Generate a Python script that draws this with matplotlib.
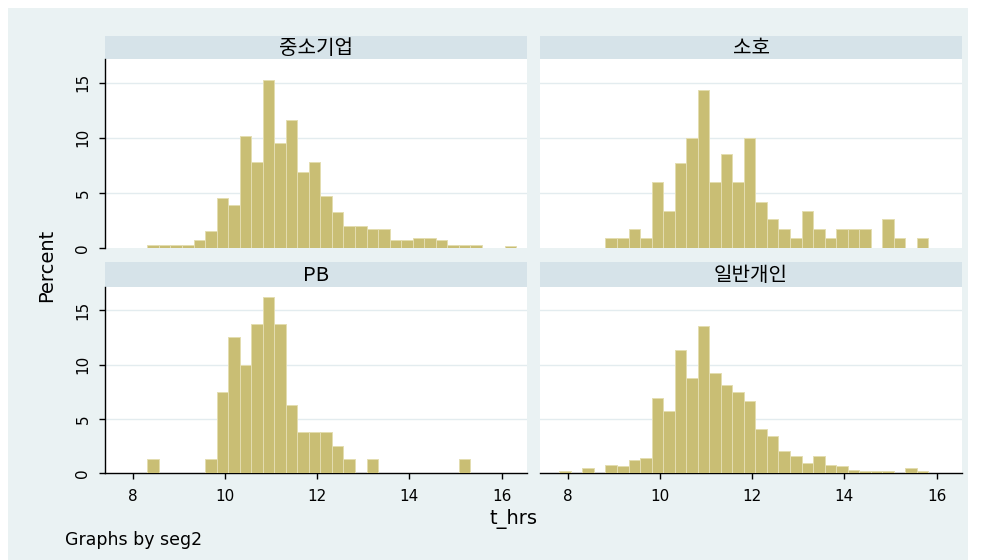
import numpy as np
import matplotlib
matplotlib.use("Agg")
import matplotlib.pyplot as plt
from matplotlib.patches import Rectangle

plt.rcParams['font.family'] = ['DejaVu Sans', 'Noto Sans CJK KR']

# histogram bins (t_hrs), common to all groups
BIN_START = 7.82
BIN_WIDTH = 0.25
N_BINS = 34

groups = ['중소기업', '소호', 'PB', '일반개인']

# percent per bin, bin 0 .. 33
pct_sme = [0, 0, 0.3, 0.3, 0.3, 0.3, 0.76, 1.5, 4.5, 3.9, 10.2, 7.8, 15.2, 9.5, 11.6, 6.9, 7.8,
           4.75, 3.3, 2.0, 2.0, 1.7, 1.7, 0.7, 0.7, 0.9, 0.9, 0.76, 0.3, 0.3, 0.3, 0, 0, 0.2]
pct_soho = [0, 0, 0, 0, 0.9, 0.9, 1.7, 0.9, 6.0, 3.4, 7.7, 10.0, 14.3, 6.0, 8.5, 6.0, 10.0,
            4.2, 2.6, 1.7, 0.9, 3.4, 1.7, 0.9, 1.7, 1.7, 1.7, 0, 2.6, 0.9, 0, 0.9, 0, 0]
pct_pb = [0, 0, 1.25, 0, 0, 0, 0, 1.25, 7.5, 12.5, 10.0, 13.75, 16.25, 13.75, 6.25, 3.75, 3.75,
          3.75, 2.5, 1.25, 0, 1.25, 0, 0, 0, 0, 0, 0, 0, 1.25, 0, 0, 0, 0]
pct_indiv = [0.15, 0, 0.45, 0, 0.76, 0.6, 1.2, 1.4, 6.9, 5.75, 11.3, 8.8, 13.6, 9.25, 8.1, 7.5, 6.6,
             4.1, 3.4, 2.0, 1.6, 0.9, 1.6, 0.76, 0.6, 0.3, 0.15, 0.15, 0.15, 0, 0.45, 0.15, 0, 0]

x_ticks = [8, 10, 12, 14, 16]
y_ticks = [0, 5, 10, 15]

W, H = 993, 560
fig = plt.figure(figsize=(W / 100, H / 100), dpi=100)
fig.patch.set_facecolor('white')

BG = '#EAF2F3'
STRIP = '#D6E3E9'
BAR = '#C9BE74'
BAR_EDGE = '#E4DDB0'
GRID = '#E3ECEF'


def rect(x0, y0, x1, y1):
    return [x0 / W, 1 - y1 / H, (x1 - x0) / W, (y1 - y0) / H]


fig.add_artist(Rectangle((8 / W, 0), 960 / W, 1 - 8 / H, transform=fig.transFigure,
                         facecolor=BG, edgecolor='none', zorder=-5))

edges = BIN_START + BIN_WIDTH * np.arange(N_BINS)
data = [pct_sme, pct_soho, pct_pb, pct_indiv]

cols = [(105, 527), (540, 962)]
rows = [(36, 59, 248), (262, 287, 473)]

for i, (name, vals) in enumerate(zip(groups, data)):
    r, c = divmod(i, 2)
    x0, x1 = cols[c]
    s0, p0, p1 = rows[r]

    # strip with the group name
    sax = fig.add_axes(rect(x0, s0, x1, p0))
    sax.set_facecolor(STRIP)
    sax.set_xticks([])
    sax.set_yticks([])
    for sp in sax.spines.values():
        sp.set_visible(False)
    sax.text(0.5, 0.46, name, ha='center', va='center', fontsize=14.5,
             family=['Noto Sans CJK KR', 'DejaVu Sans'], transform=sax.transAxes)

    ax = fig.add_axes(rect(x0, p0, x1, p1))
    ax.set_facecolor('white')
    vals = np.array(vals)
    nz = vals > 0
    ax.bar(edges[nz], vals[nz], width=BIN_WIDTH, align='edge', color=BAR,
           edgecolor=BAR_EDGE, linewidth=0.7, zorder=3)
    ax.set_xlim(7.4, 16.55)
    ax.set_ylim(0, 17.15)
    ax.set_yticks(y_ticks)
    ax.set_xticks(x_ticks)
    for y in y_ticks[1:]:
        ax.axhline(y, color=GRID, linewidth=1, zorder=1)

    for sp in ax.spines.values():
        sp.set_visible(False)
    ax.tick_params(direction='out', length=4.5, width=1, colors='black', labelsize=11)
    ax.tick_params(axis='x', pad=7)
    ax.tick_params(axis='y', pad=6)

    if c == 0:
        ax.spines['left'].set_visible(True)
        ax.spines['left'].set_linewidth(1)
        for lab in ax.get_yticklabels():
            lab.set_rotation(90)
            lab.set_va('center')
    else:
        ax.tick_params(axis='y', left=False, labelleft=False)

    if r == 1:
        ax.spines['bottom'].set_visible(True)
        ax.spines['bottom'].set_linewidth(1)
    else:
        ax.tick_params(axis='x', bottom=False, labelbottom=False)

fig.text(47 / W, 1 - 265 / H, 'Percent', rotation=90, ha='center', va='center', fontsize=14)
fig.text(514 / W, 1 - 519 / H, 't_hrs', ha='center', va='center', fontsize=14)
fig.text(65 / W, 1 - 540 / H, 'Graphs by seg2', ha='left', va='center', fontsize=12.5)

fig.savefig('out.png', dpi=100, facecolor=fig.get_facecolor())
